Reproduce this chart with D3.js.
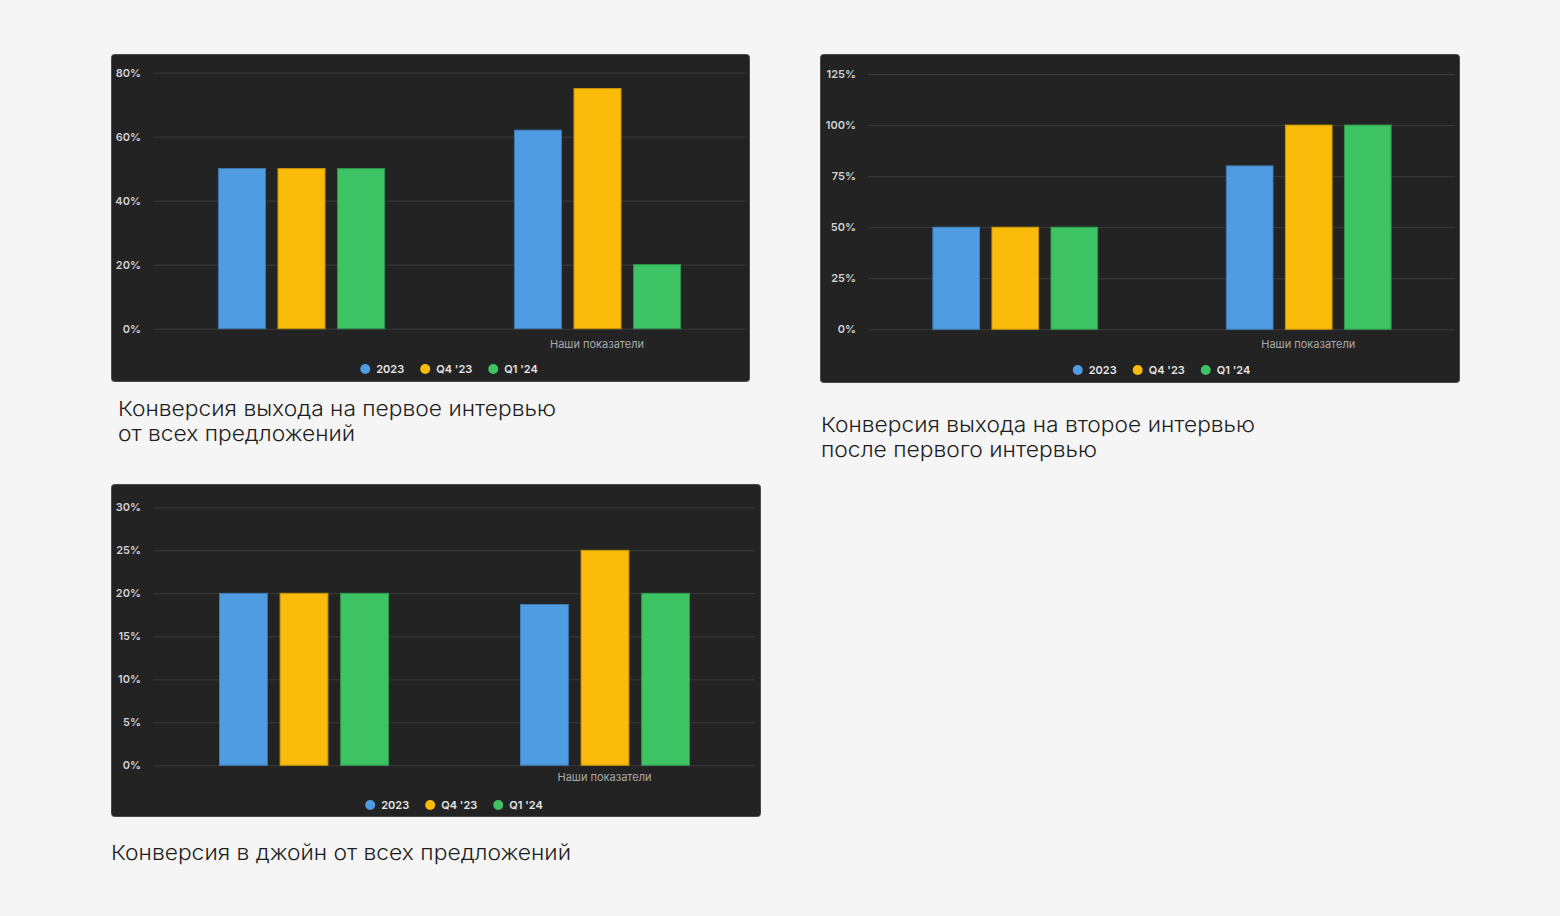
<!DOCTYPE html>
<html lang="ru">
	<head>
		<meta charset="utf-8">
		<title>Конверсии</title>
		<script type="text/javascript" src="https://cdn.jsdelivr.net/npm/d3@7/dist/d3.min.js"></script>
		<style type="text/css">
			html, body { margin: 0; padding: 0; background: #f5f5f5; }
			svg { display: block; font-family: Inter, "Noto Sans", sans-serif; }
		</style>
	</head>
	<body>
		<script type="text/javascript">

			var width = 1560;
			var height = 916;

			// data
			var categories = ["", "Наши показатели"];
			var series = ["2023", "Q4 '23", "Q1 '24"];
			var colors = ["#4f9ce2", "#fabb0a", "#3dc264"];

			// values per category, in series order (%)
			var firstInterview = [[50, 50, 50], [62, 75, 20]];
			var secondInterview = [[50, 50, 50], [80, 100, 100]];
			var joinConversion = [[20, 20, 20], [18.7, 25, 20]];

			var ticks1 = [0, 20, 40, 60, 80];
			var ticks2 = [0, 25, 50, 75, 100, 125];
			var ticks3 = [0, 5, 10, 15, 20, 25, 30];

			var title1 = ["Конверсия выхода на первое интервью", "от всех предложений"];
			var title2 = ["Конверсия выхода на второе интервью", "после первого интервью"];
			var title3 = ["Конверсия в джойн от всех предложений"];

			var svg = d3.select("body")
						.append("svg")
						.attr("width", width)
						.attr("height", height);

			// layout of each panel (positions only)
			var charts = [
				{values: firstInterview, ticks: ticks1, title: title1, titleW: [438, 237],
				 panel: [111, 54, 638, 327], plot: [153, 745, 72.5, 328.7],
				 labelY: 344, legendY: 369, titleX: 118, titleY: 416},
				{values: secondInterview, ticks: ticks2, title: title2, titleW: [434, 276],
				 panel: [820, 54, 639, 328], plot: [868, 1455, 74, 329.3],
				 labelY: 344, legendY: 370, titleX: 821, titleY: 432},
				{values: joinConversion, ticks: ticks3, title: title3, titleW: [460],
				 panel: [111, 484, 649, 332], plot: [153, 755, 507.3, 765.3],
				 labelY: 777.5, legendY: 805, titleX: 111, titleY: 860}
			];

			charts.forEach(drawChart);

			function drawChart(c) {
				var g = svg.append("g");
				var p = c.plot;

				g.append("rect")
					.attr("x", c.panel[0] + 0.5)
					.attr("y", c.panel[1] + 0.5)
					.attr("width", c.panel[2])
					.attr("height", c.panel[3])
					.attr("rx", 3)
					.attr("fill", "#232323")
					.attr("stroke", "#4a4a4a")
					.attr("stroke-width", 1);

				var yScale = d3.scaleLinear()
						.domain([0, d3.max(c.ticks)])
						.range([p[3], p[2]]);

				var x0 = d3.scaleBand()
						.domain(categories)
						.range([p[0], p[1]])
						.padding(0);

				var x1 = d3.scaleBand()
						.domain(series)
						.range([0, x0.bandwidth()])
						.paddingInner(0.21)
						.paddingOuter(1.09);

				// grid + tick labels
				var yAxis = g.append("g")
					.attr("transform", "translate(" + p[0] + ",0)")
					.call(d3.axisLeft(yScale)
						.tickValues(c.ticks)
						.tickSize(-(p[1] - p[0]))
						.tickPadding(12)
						.tickFormat(function(d){ return d + "%"; }));
				yAxis.select(".domain").remove();
				yAxis.selectAll(".tick line")
					.attr("stroke", "#3b3b3b")
					.attr("stroke-width", 1);
				yAxis.selectAll(".tick text")
					.attr("fill", "#d2d2d2")
					.attr("font-size", 11)
					.attr("font-weight", 600)
					.attr("font-family", "Inter, sans-serif");

				// bars
				var groups = g.selectAll("g.grp").data(categories).enter()
					.append("g")
					.attr("class", "grp")
					.attr("transform", function(d){ return "translate(" + x0(d) + ",0)"; });

				groups.selectAll("rect")
					.data(function(d, i){
						return series.map(function(s, j){ return {s: s, v: c.values[i][j], k: j}; });
					})
					.enter()
					.append("rect")
					.attr("x", function(d){ return x1(d.s) + 0.5; })
					.attr("y", function(d){ return yScale(d.v); })
					.attr("width", x1.bandwidth())
					.attr("height", function(d){ return yScale(0) - yScale(d.v); })
					.attr("fill", function(d){ return colors[d.k]; })
					.attr("stroke", function(d){ return d3.color(colors[d.k]).darker(0.7); })
					.attr("stroke-width", 1);

				// category labels
				g.selectAll("text.cat").data(categories).enter()
					.append("text")
					.attr("class", "cat")
					.attr("x", function(d){ return x0(d) + x0.bandwidth() / 2; })
					.attr("y", c.labelY)
					.attr("dy", "0.35em")
					.attr("text-anchor", "middle")
					.attr("fill", "#a9a9a9")
					.attr("font-size", 11)
					.text(function(d){ return d; });

				// legend, centred on the plot
				var leg = g.append("g");
				var cx = 0;
				series.forEach(function(s, j) {
					var item = leg.append("g").attr("transform", "translate(" + cx + ",0)");
					item.append("circle")
						.attr("cx", 5)
						.attr("cy", 0)
						.attr("r", 5)
						.attr("fill", colors[j]);
					var t = item.append("text")
						.attr("x", 16)
						.attr("dy", "0.35em")
						.attr("fill", "#e6e6e6")
						.attr("font-size", 11)
						.attr("font-weight", 600)
						.text(s);
					cx += 16 + t.node().getComputedTextLength() + 16;
				});
				var legW = cx - 16;
				leg.attr("transform", "translate(" + ((p[0] + p[1]) / 2 - legW / 2) + "," + c.legendY + ")");

				// title under the panel, one text per line
				c.title.forEach(function(line, i) {
					svg.append("text")
						.attr("x", c.titleX)
						.attr("y", c.titleY + i * 25)
						.attr("fill", "#1e1e1e")
						.attr("font-size", 20.5)
						.attr("font-weight", 300)
						.attr("textLength", c.titleW[i])
						.attr("lengthAdjust", "spacingAndGlyphs")
						.text(line);
				});
			}

		</script>
	</body>
</html>
